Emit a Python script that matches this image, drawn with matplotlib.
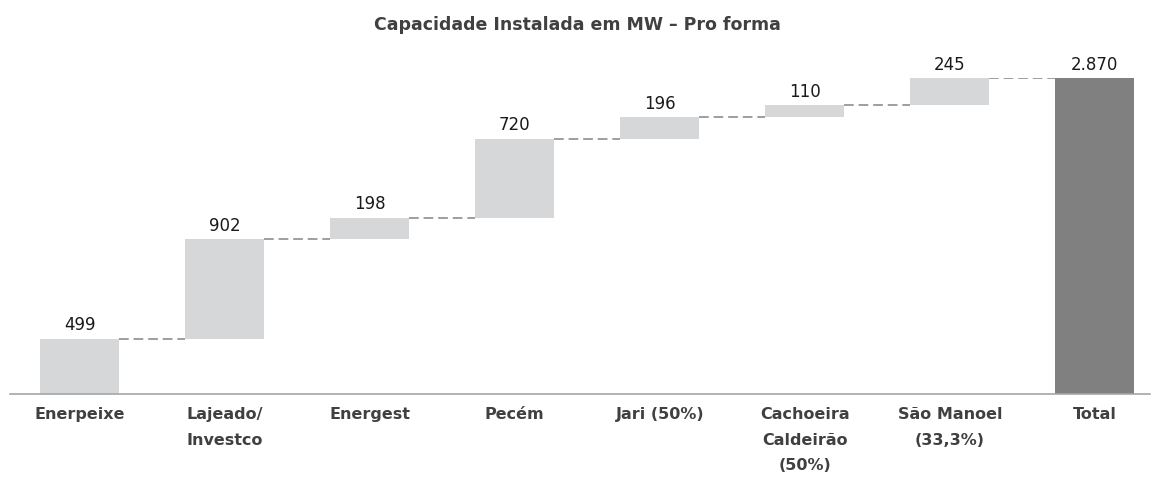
import numpy as np
import matplotlib
matplotlib.use("Agg")
from matplotlib import pyplot as plt

categories = ["Enerpeixe", "Lajeado/\nInvestco", "Energest", "Pecém", "Jari (50%)",
              "Cachoeira\nCaldeirão\n(50%)", "São Manoel\n(33,3%)", "Total"]
increments = [499, 902, 198, 720, 196, 110, 245]
total = 2870
labels = ["499", "902", "198", "720", "196", "110", "245", "2.870"]

text_gray = "#404040"
plt.rcParams['font.family'] = ['DejaVu Sans']

fig = plt.figure(figsize=(11.55, 4.79), dpi=100)
ax = fig.add_axes([10 / 1155, 1 - 393.5 / 479, 1140 / 1155, 315.5 / 479])

width = 0.545
tops = np.cumsum(increments)
bottoms = tops - np.array(increments)
x = np.arange(len(categories))

ax.bar(x[:-1], increments, bottom=bottoms, width=width, color="#D6D7D9", zorder=2)
ax.bar(x[-1], total, width=width, color="#808080", zorder=2)

# connectors between bars
for i, lvl in enumerate(tops):
    ax.plot([x[i] + width / 2, x[i + 1] - width / 2], [lvl, lvl],
            ls=(0, (5, 2.5)), color="#9E9E9E", lw=1.4, zorder=1)

# value labels
all_tops = list(tops) + [total]
for xi, t, lab in zip(x, all_tops, labels):
    ax.text(xi, t + 40, lab, ha="center", va="bottom", fontsize=12, color="#1a1a1a")

ax.set_xlim(-0.48, 7.38)
ax.set_ylim(0, total)
for s in ["top", "right", "left"]:
    ax.spines[s].set_visible(False)
ax.spines["bottom"].set_color("#A6A6A6")
ax.spines["bottom"].set_linewidth(1.2)
ax.set_yticks([])
ax.set_xticks(x)
ax.set_xticklabels(categories, fontsize=11.5, fontweight="bold", color=text_gray,
                   linespacing=1.85, va="top")
ax.tick_params(axis="x", length=0, pad=10)

fig.text(0.5, 1 - 25 / 479, "Capacidade Instalada em MW – Pro forma", ha="center", va="center",
         fontsize=12.5, fontweight="bold", color=text_gray)

fig.savefig("out.png", dpi=100)
